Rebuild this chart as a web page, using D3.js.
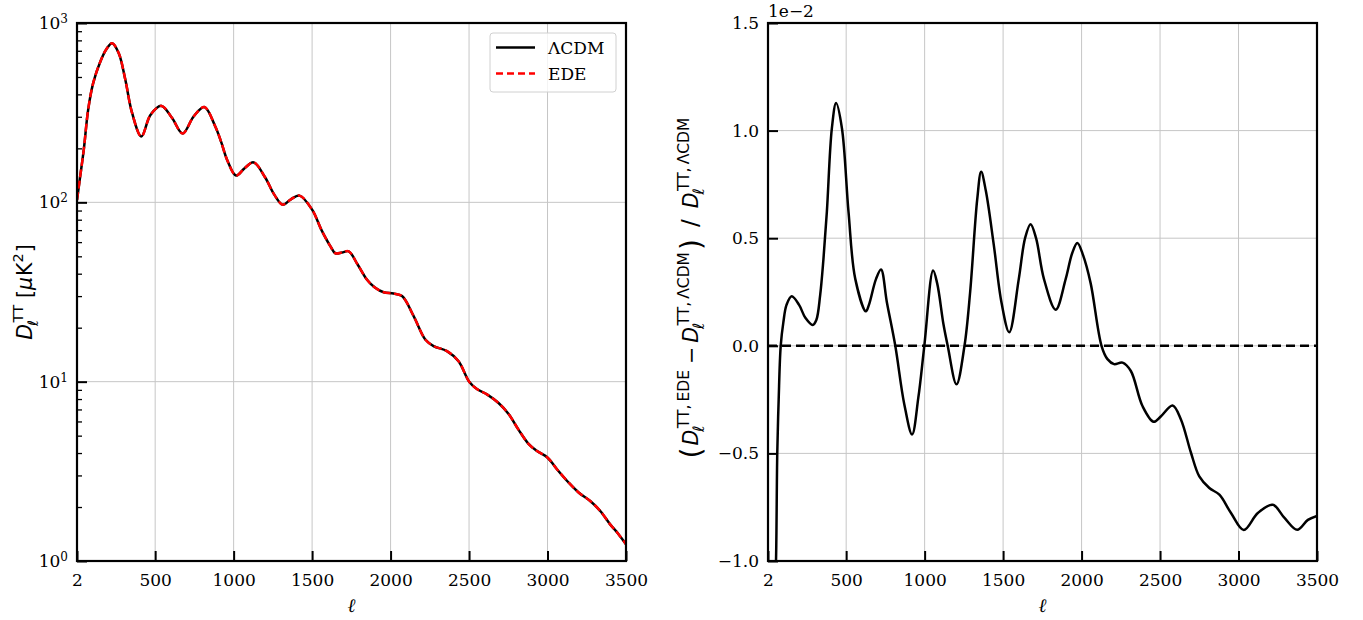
<!DOCTYPE html>
<html>
<head>
<meta charset="utf-8">
<script src="https://cdn.jsdelivr.net/npm/d3@7"></script>
<style>
  body { margin: 0; background: #fff; }
  svg { display: block; }
</style>
</head>
<body>
<svg width="1363" height="620"></svg>
<script>
  const svg = d3.select("svg");

  // multipoles and D_l^TT (muK^2)
  const ellTT = [2, 20, 45, 73, 105, 151, 189, 226, 268, 310, 353, 412, 470, 540, 608, 675, 745, 813,
    883, 920, 958, 1015, 1070, 1127, 1200, 1260, 1312, 1365, 1420, 1500, 1560, 1616, 1648, 1690, 1733, 1790,
    1850, 1900, 1956, 2019, 2073, 2147, 2221, 2274, 2359, 2433, 2501, 2550, 2614, 2688, 2752, 2815,
    2879, 2933, 2999, 3060, 3134, 3198, 3272, 3336, 3399, 3450, 3500];
  const lcdmTT = [103, 135, 196, 328, 462, 610, 714, 772, 679, 482, 315, 233, 307, 345, 295, 242, 301, 340,
    265, 218, 173, 141, 155, 167, 138, 110, 97, 104, 109, 91, 70, 57, 52, 52.5, 53.3, 45,
    37, 33.5, 31.5, 31, 30, 23.2, 17.2, 15.8, 14.8, 13, 10, 9.1, 8.5, 7.6, 6.6, 5.4,
    4.5, 4.1, 3.78, 3.25, 2.74, 2.41, 2.16, 1.9, 1.6, 1.42, 1.24];
  const edeTT = [103, 135, 196, 328, 462, 610, 714, 772, 679, 482, 315, 233, 307, 345, 295, 242, 301, 340,
    265, 218, 173, 141, 155, 167, 138, 110, 97, 104, 109, 91, 70, 57, 52, 52.5, 53.3, 45,
    37, 33.5, 31.5, 31, 30, 23.2, 17.2, 15.8, 14.8, 13, 10, 9.1, 8.5, 7.6, 6.6, 5.4,
    4.5, 4.1, 3.78, 3.25, 2.74, 2.41, 2.16, 1.9, 1.6, 1.42, 1.24];

  // relative difference (EDE - LCDM) / LCDM, in units of 1e-2 (right panel)
  const ellRatio = [2, 30, 45, 53, 61, 70, 83, 100, 120, 153, 200, 240, 287, 310, 334, 355, 377, 409, 436,
    473, 515, 558, 626, 645, 690, 722, 760, 813, 870, 920, 960, 998, 1054, 1080, 1120, 1147, 1203, 1254, 1290, 1335,
    1360, 1390, 1441, 1490, 1539, 1600, 1640, 1675, 1710, 1760, 1835, 1899, 1940, 1973, 2010, 2058, 2127, 2165, 2207, 2261, 2314, 2388,
    2459, 2506, 2580, 2633, 2697, 2750, 2814, 2878, 2952, 3033, 3123, 3218, 3293, 3374, 3442, 3500];
  const ratioE2 = [-3.0, -1.8, -1.15, -1.0, -0.5, -0.25, 0, 0.11, 0.19, 0.23, 0.19, 0.13, 0.097, 0.12, 0.233, 0.40, 0.622, 1.011, 1.128,
    1.011, 0.622, 0.311, 0.16, 0.19, 0.31, 0.355, 0.2, 0, -0.27, -0.412, -0.24, 0, 0.35, 0.29, 0.1, 0, -0.179, 0, 0.25, 0.68,
    0.809, 0.72, 0.467, 0.2, 0.063, 0.311, 0.50, 0.565, 0.50, 0.311, 0.168, 0.311, 0.43, 0.478, 0.42, 0.29, 0, -0.062, -0.085, -0.078, -0.117, -0.28,
    -0.353, -0.327, -0.277, -0.342, -0.497, -0.607, -0.661, -0.692, -0.777, -0.856, -0.777, -0.739, -0.80, -0.855, -0.809, -0.79];

  // ticks
  const ellTicks = [2, 500, 1000, 1500, 2000, 2500, 3000, 3500];
  const ellTickLabels = ["2", "500", "1000", "1500", "2000", "2500", "3000", "3500"];
  const ttTicks = [1, 10, 100, 1000];
  const ttTickExps = ["0", "1", "2", "3"];
  const ratioTicks = [-1.0, -0.5, 0.0, 0.5, 1.0, 1.5];
  const ratioTickLabels = ["\u22121.0", "\u22120.5", "0.0", "0.5", "1.0", "1.5"];
  const seriesNames = ["\u039BCDM", "EDE"];

  const TOP = 23, BOT = 561;
  const serif = "DejaVu Serif";
  const fs = "17px";
  const gridCol = "#c6c6c6";

  // scales
  const xL = d3.scaleLinear().domain([2, 3500]).range([77, 626]);
  const yL = d3.scaleLog().domain([1, 1000]).range([BOT, TOP]);
  const xR = d3.scaleLinear().domain([2, 3500]).range([768, 1317]);
  const yR = d3.scaleLinear().domain([-1.0, 1.5]).range([BOT, TOP]);

  // clip paths for both panels
  const defs = svg.append("defs");
  defs.append("clipPath").attr("id", "clipL").append("rect")
    .attr("x", 77).attr("y", TOP).attr("width", 549).attr("height", BOT - TOP);
  defs.append("clipPath").attr("id", "clipR").append("rect")
    .attr("x", 768).attr("y", TOP).attr("width", 549).attr("height", BOT - TOP);

  // grid lines
  function grid(x, y, xt, yt) {
    const g = svg.append("g");
    g.selectAll(".gx").data(xt).enter().append("line")
      .attr("x1", d => x(d)).attr("x2", d => x(d))
      .attr("y1", TOP).attr("y2", BOT)
      .attr("stroke", gridCol).attr("stroke-width", 1);
    g.selectAll(".gy").data(yt).enter().append("line")
      .attr("x1", x.range()[0]).attr("x2", x.range()[1])
      .attr("y1", d => y(d)).attr("y2", d => y(d))
      .attr("stroke", gridCol).attr("stroke-width", 1);
  }
  grid(xL, yL, ellTicks, ttTicks);
  grid(xR, yR, ellTicks, ratioTicks);

  // curves
  const lineL = d3.line().x((d, i) => xL(ellTT[i])).y(d => yL(d)).curve(d3.curveCatmullRom.alpha(0.5));
  svg.append("path").datum(lcdmTT).attr("clip-path", "url(#clipL)")
    .attr("d", lineL).attr("fill", "none").attr("stroke", "#000").attr("stroke-width", 2.5);
  svg.append("path").datum(edeTT).attr("clip-path", "url(#clipL)")
    .attr("d", lineL).attr("fill", "none").attr("stroke", "#ff0000").attr("stroke-width", 2.5)
    .attr("stroke-dasharray", "8,3.5");

  svg.append("line").attr("x1", xR(2)).attr("x2", xR(3500)).attr("y1", yR(0)).attr("y2", yR(0))
    .attr("stroke", "#000").attr("stroke-width", 2.4).attr("stroke-dasharray", "9,5");
  const lineR = d3.line().x((d, i) => xR(ellRatio[i])).y(d => yR(d)).curve(d3.curveCatmullRom.alpha(0.5));
  svg.append("path").datum(ratioE2).attr("clip-path", "url(#clipR)")
    .attr("d", lineR).attr("fill", "none").attr("stroke", "#000").attr("stroke-width", 2.5);

  // axes (ticks point inward)
  function styleAxis(g) {
    g.select(".domain").remove();
    g.selectAll("line").attr("stroke", "#000").attr("stroke-width", 2);
    g.selectAll("text").style("font-family", serif).style("font-size", fs).attr("fill", "#000");
  }
  svg.append("g").attr("transform", `translate(0,${BOT})`)
    .call(d3.axisBottom(xL).tickValues(ellTicks).tickFormat((d, i) => ellTickLabels[i])
      .tickSizeInner(-10).tickSizeOuter(0).tickPadding(13)).call(styleAxis);
  svg.append("g").attr("transform", `translate(0,${BOT})`)
    .call(d3.axisBottom(xR).tickValues(ellTicks).tickFormat((d, i) => ellTickLabels[i])
      .tickSizeInner(-10).tickSizeOuter(0).tickPadding(13)).call(styleAxis);

  const ayL = svg.append("g").attr("transform", "translate(77,0)")
    .call(d3.axisLeft(yL).tickValues(ttTicks).tickFormat("")
      .tickSizeInner(-10).tickSizeOuter(0).tickPadding(9)).call(styleAxis);
  // 10^n labels with superscript
  ayL.selectAll(".tick text").each(function(d, i) {
    const t = d3.select(this);
    t.append("tspan").text("10");
    t.append("tspan").attr("dy", "-0.5em").style("font-size", "12px").text(ttTickExps[i]);
  });
  const minorTT = [];
  [1, 10, 100].forEach(b => { for (let m = 2; m < 10; m++) minorTT.push(b * m); });
  svg.append("g").attr("transform", "translate(77,0)")
    .call(d3.axisLeft(yL).tickValues(minorTT).tickFormat("").tickSizeInner(-5).tickSizeOuter(0))
    .call(g => { g.select(".domain").remove(); g.selectAll("line").attr("stroke", "#000").attr("stroke-width", 1.3); });

  svg.append("g").attr("transform", "translate(768,0)")
    .call(d3.axisLeft(yR).tickValues(ratioTicks).tickFormat((d, i) => ratioTickLabels[i])
      .tickSizeInner(-10).tickSizeOuter(0).tickPadding(9)).call(styleAxis);

  // frames
  [[77, 626], [768, 1317]].forEach(([a, b]) => {
    svg.append("rect").attr("x", a).attr("y", TOP).attr("width", b - a).attr("height", BOT - TOP)
      .attr("fill", "none").attr("stroke", "#000").attr("stroke-width", 2.2);
  });

  // offset text of the right axis
  svg.append("text").attr("x", 768).attr("y", 17).style("font-family", serif).style("font-size", fs)
    .text("1e\u22122");

  // x labels
  [351.5, 1042.5].forEach(cx => {
    svg.append("text").attr("x", cx).attr("y", 612).attr("text-anchor", "middle")
      .style("font-family", serif).style("font-style", "italic").style("font-size", "19px").text("\u2113");
  });

  // math-like labels built from pieces
  function piece(g, x, str, o) {
    o = o || {};
    const t = g.append("text").attr("x", x).attr("y", o.dy || 0)
      .style("font-family", o.fam || "DejaVu Sans")
      .style("font-size", (o.size || 20.5) + "px")
      .style("font-style", o.it ? "italic" : "normal")
      .text(str);
    return t.node().getComputedTextLength();
  }
  function dSym(g, x, sup, ss) {
    ss = ss || 14.5;
    const w = piece(g, x, "D", { it: true });
    const ws = piece(g, x + w + 1.5, sup, { size: ss, dy: -9 });
    const wb = piece(g, x + w - 2, "\u2113", { size: ss, dy: 5.5, it: true });
    return w + 1.5 + Math.max(ws, wb - 3.5);
  }
  function vLabel(cx, cy, buildFn) {
    const outer = svg.append("g").attr("transform", `translate(${cx},${cy}) rotate(-90)`);
    const inner = outer.append("g");
    const w = buildFn(inner);
    inner.attr("transform", `translate(${-w / 2},0)`);
  }

  vLabel(32, 292, g => {
    let x = 0;
    x += dSym(g, x, "TT") + 7;
    x += piece(g, x, "[");
    x += piece(g, x, "\u03BC", { it: true }) + 1;
    x += piece(g, x, "K");
    x += piece(g, x, "2", { size: 14.5, dy: -9 }) + 1;
    x += piece(g, x, "]");
    return x;
  });

  vLabel(698, 288, g => {
    let x = 0;
    x += piece(g, x, "(", { size: 28, dy: 2.5 }) + 2;
    x += dSym(g, x, "TT,\u2009EDE", 15.5) + 6;
    x += piece(g, x, "\u2212") + 4;
    x += dSym(g, x, "TT,\u2009\u039BCDM", 15.5) + 2;
    x += piece(g, x, ")", { size: 28, dy: 2.5 }) + 12;
    x += piece(g, x, "/", { size: 23 }) + 11;
    x += dSym(g, x, "TT,\u2009\u039BCDM", 15.5);
    return x;
  });

  // legend
  const lg = svg.append("g").attr("transform", "translate(490,33)");
  lg.append("rect").attr("width", 126).attr("height", 59).attr("rx", 3)
    .attr("fill", "#fff").attr("fill-opacity", 0.8).attr("stroke", "#d0d0d0").attr("stroke-width", 1);
  const legStyles = [{ c: "#000", dash: null }, { c: "#ff0000", dash: "7,4" }];
  seriesNames.forEach((name, i) => {
    const y = 14.5 + i * 26;
    lg.append("line").attr("x1", 6).attr("x2", 45).attr("y1", y).attr("y2", y)
      .attr("stroke", legStyles[i].c).attr("stroke-width", 2.5)
      .attr("stroke-dasharray", legStyles[i].dash);
    lg.append("text").attr("x", 58).attr("y", y + 6).style("font-family", serif).style("font-size", fs)
      .text(name);
  });
</script>
</body>
</html>
